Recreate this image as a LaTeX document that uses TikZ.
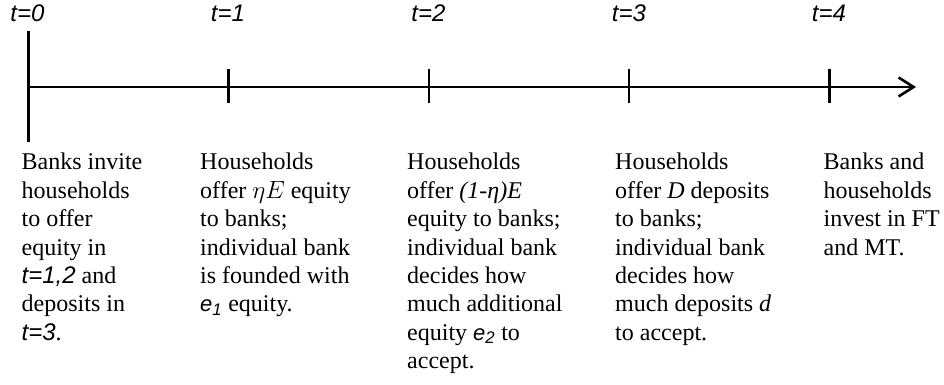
\documentclass[tikz,border=0pt]{standalone}
\usepackage{fontspec}
\setmainfont{Liberation Serif}
\newfontfamily\tfont{Liberation Sans}
\usetikzlibrary{arrows.meta}
\newcommand{\tlab}[1]{{\tfont\itshape #1}}
\newcommand{\evar}[1]{{\fontsize{22}{22}\selectfont\tfont\itshape e}\textsubscript{\tlab{#1}}}
\begin{document}
\begin{tikzpicture}[x=1pt,y=-1pt,
  axis/.style={line width=2.6pt},
  txt/.style={anchor=north west,inner sep=0pt,align=left,font=\fontsize{24}{28.4}\selectfont},
  tl/.style={anchor=base,inner sep=0pt,font=\fontsize{24}{24}\selectfont\tfont\itshape}]
\useasboundingbox (0,0) rectangle (944,385);
% axis
\coordinate (s) at (28.3,87);
\coordinate (e) at (916,87);
\draw[axis,-{Straight Barb[length=15pt,width=19pt]}] (s) -- (e);
\coordinate (v0a) at (28.3,31);
\coordinate (v0b) at (28.3,141.7);
\draw[axis] (v0a) -- (v0b);
\foreach \i/\x in {1/228.5,2/428.8,3/629,4/829.3}{
  \coordinate (k\i a) at (\x,69);
  \coordinate (k\i b) at (\x,103.3);
  \draw[axis] (k\i a) -- (k\i b);
}
% time labels
\node[tl] (l0) at (27.5,22) {t=0};
\node[tl] (l1) at (228,22) {t=1};
\node[tl] (l2) at (428.5,22) {t=2};
\node[tl] (l3) at (629,22) {t=3};
\node[tl] (l4) at (829,22) {t=4};
% texts
\node[txt] (c0) at (21.5,153) {Banks invite\\households\\to offer\\equity in\\\tlab{t=1,2} and\\deposits in\\\tlab{t=3}.};
\node[txt] (c1) at (200,153) {Households\\offer $\eta E$ equity\\to banks;\\individual bank\\is founded with\\\evar{1} equity.};
\node[txt] (c2) at (407,153) {Households\\offer \textit{(1-η)E}\\equity to banks;\\individual bank\\decides how\\much additional\\equity \evar{2} to\\accept.};
\node[txt] (c3) at (615,153) {Households\\offer \textit{D} deposits\\to banks;\\individual bank\\decides how\\much deposits \textit{d}\\to accept.};
\node[txt] (c4) at (823.5,153) {Banks and\\households\\invest in FT\\and MT.};
\end{tikzpicture}
\end{document}
